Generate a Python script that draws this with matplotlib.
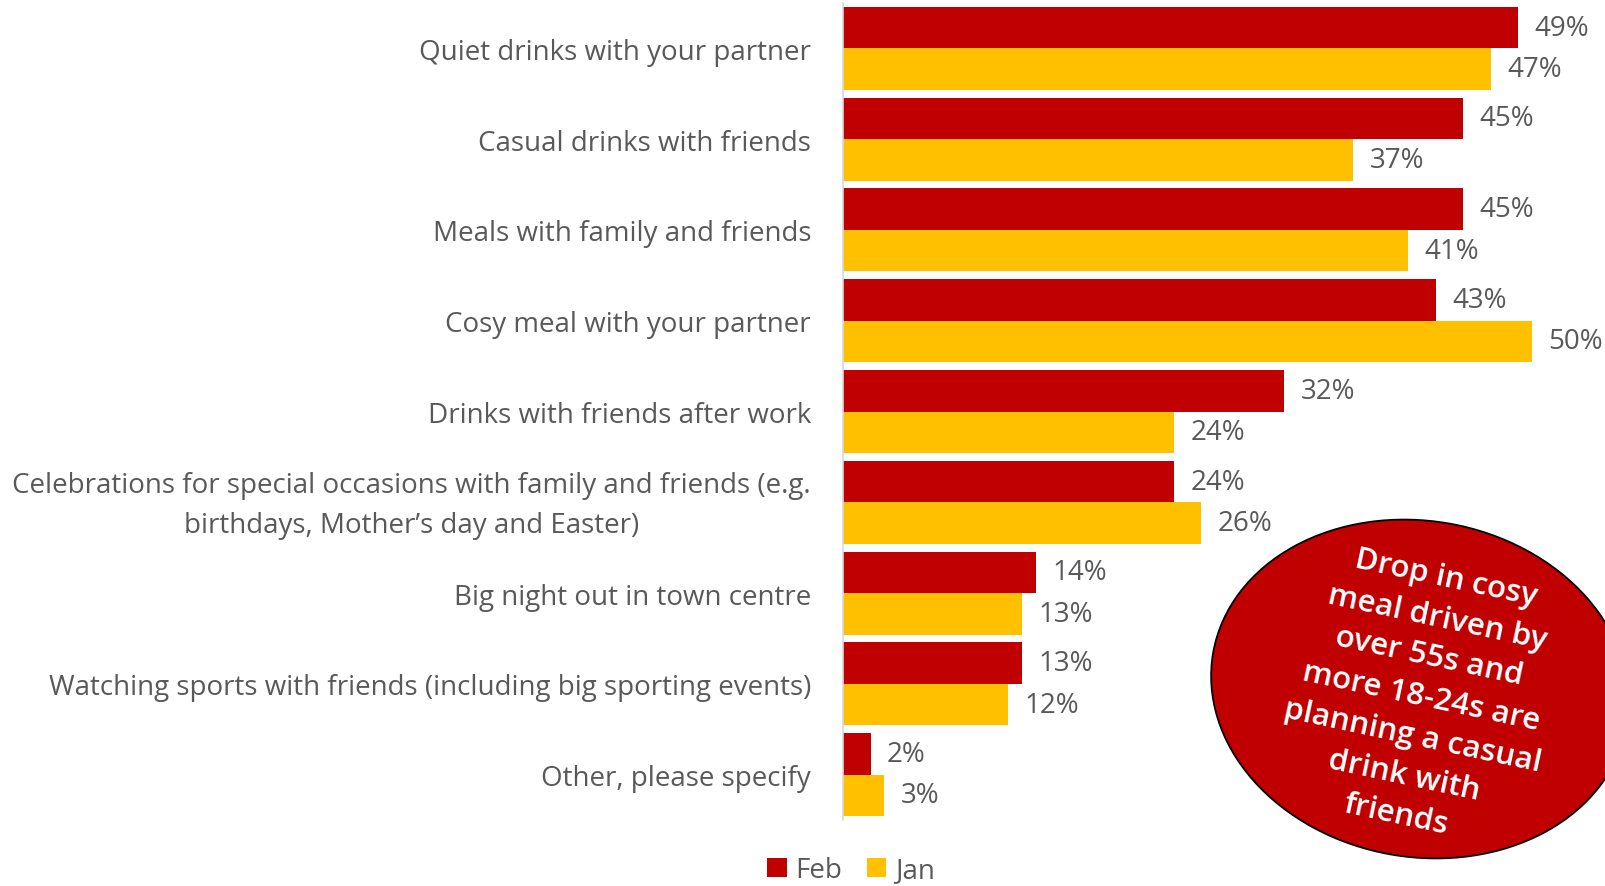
import matplotlib
matplotlib.use("Agg")
import matplotlib.pyplot as plt
from matplotlib.patches import Ellipse
from matplotlib.transforms import ScaledTranslation
import numpy as np

categories = [
    "Quiet drinks with your partner",
    "Casual drinks with friends",
    "Meals with family and friends",
    "Cosy meal with your partner",
    "Drinks with friends after work",
    "Celebrations for special occasions with family and friends (e.g.\nbirthdays, Mother\u2019s day and Easter)",
    "Big night out in town centre",
    "Watching sports with friends (including big sporting events)",
    "Other, please specify",
]
feb = [49, 45, 45, 43, 32, 24, 14, 13, 2]
jan = [47, 37, 41, 50, 24, 26, 13, 12, 3]
series_names = ["Feb", "Jan"]
colors = ["#C00000", "#FFC000"]
note = "Drop in cosy\nmeal driven by\nover 55s and\nmore 18-24s are\nplanning a casual\ndrink with\nfriends"

plt.rcParams['font.family'] = ['Open Sans', 'DejaVu Sans']
W, H = 1606, 887
fig = plt.figure(figsize=(W / 100, H / 100), dpi=100)
x0 = 843
ppu = 13.78
top_px, bot_px = 4, 821
ax = fig.add_axes([x0 / W, 1 - bot_px / H, (W - x0) / W, (bot_px - top_px) / H])

n = len(categories)
y = np.arange(n)
bh = 0.457
ax.barh(y - bh / 2, feb, height=bh, color=colors[0], label=series_names[0])
ax.barh(y + bh / 2, jan, height=bh, color=colors[1], label=series_names[1])
ax.set_ylim(n - 0.5, -0.5)
ax.set_xlim(0, (W - x0) / ppu)

txtc = "#595959"
fs = 20
for i in range(n):
    ax.text(feb[i] + 1.2, i - bh / 2, f"{feb[i]}%", va="center", ha="left", fontsize=fs, color=txtc)
    ax.text(jan[i] + 1.2, i + bh / 2, f"{jan[i]}%", va="center", ha="left", fontsize=fs, color=txtc)

ax.set_yticks(y)
ax.set_yticklabels(categories, fontsize=fs, color=txtc, ha="right", multialignment="center",
                   linespacing=1.6)
ax.tick_params(axis="y", length=0, pad=23)
ax.set_xticks([])
for lab in ax.get_yticklabels():
    if "\n" in lab.get_text():
        lab.set_transform(lab.get_transform() + ScaledTranslation(0, 7 / 100, fig.dpi_scale_trans))
for s in ["top", "right", "bottom"]:
    ax.spines[s].set_visible(False)
ax.spines["left"].set_color("#D9D9D9")
ax.spines["left"].set_linewidth(1.2)

leg = fig.legend(loc="center", bbox_to_anchor=(851 / W, 1 - 871 / H), ncol=2, frameon=False,
                 fontsize=fs, handlelength=0.7, handleheight=0.7, handletextpad=0.3,
                 columnspacing=0.9, borderpad=0)
for t in leg.get_texts():
    t.set_color(txtc)

ov = fig.add_axes([0, 0, 1, 1])
ov.set_xlim(0, W)
ov.set_ylim(H, 0)
ov.axis("off")
ov.add_patch(Ellipse((1420, 690), 420, 336, angle=10, facecolor="#C00000", edgecolor="black",
                     linewidth=1.3))
ov.text(1421, 697, note, color="white", fontsize=22.5, fontweight="semibold", ha="center",
        va="center", rotation=-12, linespacing=1.45, rotation_mode="anchor")

fig.savefig("out.png", dpi=100)
